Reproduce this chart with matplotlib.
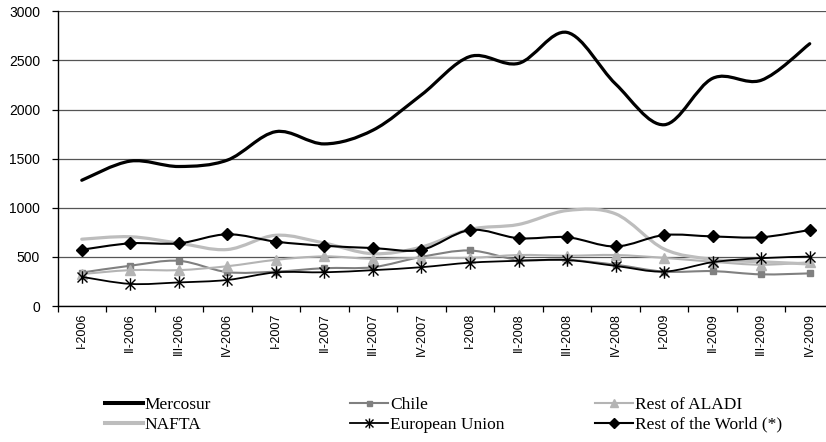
import numpy as np
import matplotlib
matplotlib.use('Agg')
import matplotlib.pyplot as plt
from matplotlib.path import Path
from matplotlib.patches import PathPatch
from matplotlib.lines import Line2D

# quarterly values
quarters = ['I-2006', 'II-2006', 'III-2006', 'IV-2006',
            'I-2007', 'II-2007', 'III-2007', 'IV-2007',
            'I-2008', 'II-2008', 'III-2008', 'IV-2008',
            'I-2009', 'II-2009', 'III-2009', 'IV-2009']
mercosur = [1280, 1475, 1420, 1485, 1775, 1650, 1790, 2150,
            2540, 2470, 2785, 2260, 1845, 2318, 2298, 2670]
chile = [340, 410, 460, 345, 350, 385, 395, 500,
         565, 470, 470, 420, 350, 355, 322, 332]
aladi = [325, 365, 365, 405, 470, 505, 480, 490,
         490, 519, 512, 519, 490, 450, 420, 445]
nafta = [680, 705, 640, 575, 720, 640, 532, 600,
         780, 830, 972, 938, 580, 475, 450, 428]
eu = [297, 225, 240, 265, 342, 343, 365, 395,
      441, 460, 468, 408, 350, 446, 487, 503]
rest_world = [573, 638, 638, 730, 655, 613, 590, 572,
              774, 690, 700, 606, 722, 708, 700, 774]

plt.rcParams['font.family'] = ['Liberation Sans', 'DejaVu Sans']

# asterisk marker like the excel one
star = Path([(0, -1), (0, 1), (-0.8, -0.8), (0.8, 0.8), (-0.8, 0.8), (0.8, -0.8)],
            [Path.MOVETO, Path.LINETO] * 3)


def smooth(vals):
    # catmull-rom style bezier through the points (excel "smoothed line")
    pts = np.column_stack([np.arange(len(vals)), vals]).astype(float)
    verts = [pts[0]]
    codes = [Path.MOVETO]
    n = len(pts)
    for i in range(n - 1):
        p0 = pts[max(i - 1, 0)]
        p1 = pts[i]
        p2 = pts[i + 1]
        p3 = pts[min(i + 2, n - 1)]
        verts += [p1 + (p2 - p0) / 6, p2 - (p3 - p1) / 6, p2]
        codes += [Path.CURVE4] * 3
    return Path(verts, codes)


fig = plt.figure(figsize=(8.26, 4.42), dpi=100)
ax = fig.add_axes([57.5 / 826, 1 - 306 / 442, (834 - 57.5) / 826, (306 - 11.3) / 442])

series = [
    ('Mercosur', mercosur, 'black', 2.3, None, 0),
    ('Chile', chile, '#808080', 1.5, 's', 4.5),
    ('Rest of ALADI', aladi, '#b4b4b4', 1.5, '^', 7),
    ('NAFTA', nafta, '#bdbdbd', 2.3, None, 0),
    ('European Union', eu, 'black', 1.3, star, 9),
    ('Rest of the World (*)', rest_world, 'black', 1.5, 'D', 6),
]

x = np.arange(len(quarters))
handles = {}
for k, (name, vals, col, lw, mk, ms) in enumerate(series):
    ax.add_patch(PathPatch(smooth(vals), fill=False, edgecolor=col, lw=lw,
                           zorder=3 + k, capstyle='round', joinstyle='round'))
    if mk is not None:
        ax.plot(x, vals, linestyle='none', marker=mk, ms=ms, color=col,
                mec=col, mew=1.0, zorder=3 + k)
    handles[name] = Line2D([], [], color=col, lw=lw + 0.6 if mk is None else lw,
                           marker=mk, ms=ms * 0.8 if mk is not None else 0,
                           mec=col, mew=1.0)

ax.set_xlim(-0.5, len(quarters) - 0.5)
ax.set_ylim(0, 3000)
ax.set_yticks(np.arange(0, 3001, 500))
ax.yaxis.grid(True, color='#555555', lw=0.9)
ax.set_axisbelow(True)
ax.tick_params(axis='y', length=4, width=0.9, pad=8.5, labelsize=10, direction='out')

ax.set_xticks(x)
ax.set_xticklabels(quarters, rotation=90, fontsize=9)
ax.set_xticks(np.arange(-0.5, len(quarters)), minor=True)
ax.tick_params(axis='x', which='major', length=0, pad=5)
ax.tick_params(axis='x', which='minor', length=4, width=0.9, direction='out')

for s in ['top', 'right']:
    ax.spines[s].set_visible(False)
ax.spines['left'].set_linewidth(1.0)
ax.spines['bottom'].set_linewidth(1.0)

# legend: three columns, two rows each
cols = [(105, ['Mercosur', 'NAFTA']),
        (350, ['Chile', 'European Union']),
        (595, ['Rest of ALADI', 'Rest of the World (*)'])]
for xpos, names in cols:
    fig.legend([handles[n] for n in names], names, loc='upper left',
               bbox_to_anchor=(xpos / 826, 1 - 397 / 442), frameon=False,
               prop={'family': 'Liberation Serif', 'size': 12.5},
               handlelength=2.2, handletextpad=0.1, labelspacing=0.2,
               borderpad=0, borderaxespad=0)

fig.savefig('out.png', dpi=100)
